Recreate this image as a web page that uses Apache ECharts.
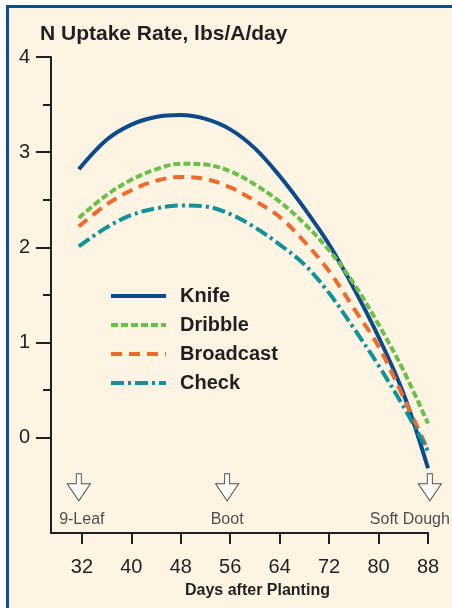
<!DOCTYPE html>
<html>
<head>
<meta charset="utf-8">
<script src="https://cdn.jsdelivr.net/npm/echarts@6/dist/echarts.min.js"></script>
<style>
  html, body { margin: 0; padding: 0; background: #fff; }
  #frame {
    position: absolute; left: 6px; top: 5px; width: 446px; height: 603px;
    box-sizing: border-box; background: #fdf4e3;
    border-top: 3px solid #0b4f91; border-left: 3px solid #0b4f91;
  }
  #main { position: absolute; left: 0; top: 0; width: 452px; height: 608px; }
</style>
</head>
<body>
<div id="frame"></div>
<div id="main"></div>
<script>
// days after planting
const days = [31.5, 36, 40, 44, 48, 52, 56, 60, 64, 68, 72, 76, 80, 84, 88]
// N uptake rate, lbs/A/day
const knife = [2.82, 3.13, 3.29, 3.37, 3.39, 3.35, 3.24, 3.04, 2.75, 2.41, 2.03, 1.57, 1.06, 0.47, -0.32]
const dribble = [2.31, 2.55, 2.71, 2.82, 2.88, 2.87, 2.8, 2.66, 2.48, 2.25, 1.97, 1.62, 1.19, 0.71, 0.15]
const broadcast = [2.22, 2.45, 2.6, 2.7, 2.74, 2.72, 2.63, 2.49, 2.32, 2.06, 1.75, 1.36, 0.96, 0.43, -0.13]
const check = [2.01, 2.21, 2.34, 2.41, 2.44, 2.43, 2.35, 2.21, 2.03, 1.82, 1.52, 1.15, 0.76, 0.33, -0.14]

// axis ticks
const xTicks = [32, 40, 48, 56, 64, 72, 80, 88]
const yTicks = [0, 1, 2, 3, 4]
const yMinorTicks = [0.5, 1.5, 2.5, 3.5]

// growth stages
const stageNames = ['9-Leaf', 'Boot', 'Soft Dough']
const stageDays = [31.5, 55.5, 88.3]

const ARROW_Y = -0.52
const LABEL_Y = -0.86
const INK = '#231f20'
const FONT = 'Liberation Sans, Arial, sans-serif'

const chart = echarts.init(document.getElementById('main'))

function line(name, data, color, type) {
  return {
    name: name,
    type: 'line',
    smooth: 0.35,
    showSymbol: false,
    symbol: 'none',
    data: days.map((d, i) => [d, data[i]]),
    lineStyle: { color: color, width: 4, type: type, cap: 'butt' },
    itemStyle: { color: color },
    z: 3
  }
}

const option = {
  animation: false,
  textStyle: { fontFamily: FONT },
  graphic: [
    {
      type: 'text', left: 40, top: 24,
      style: { text: 'N Uptake Rate, lbs/A/day', fontSize: 21, fontWeight: 'bold', fill: INK, fontFamily: FONT }
    },
    {
      type: 'text', left: 185, top: 583,
      style: { text: 'Days after Planting', fontSize: 16, fontWeight: 'bold', fill: INK, fontFamily: FONT }
    }
  ],
  legend: {
    orient: 'vertical',
    left: 104,
    top: 281,
    itemWidth: 55,
    itemHeight: 20,
    itemGap: 9,
    data: ['Knife', 'Dribble', 'Broadcast', 'Check'],
    itemStyle: { opacity: 0 },
    lineStyle: { width: 4 },
    textStyle: { fontSize: 20, fontWeight: 'bold', color: INK, padding: [0, 0, 0, 9] }
  },
  grid: { left: 51, right: 24, top: 57, bottom: 75 },
  xAxis: {
    type: 'value',
    min: 27,
    max: 88,
    splitLine: { show: false },
    axisLine: { show: true, onZero: false, lineStyle: { color: INK, width: 2 } },
    axisTick: { show: true, length: 11, customValues: xTicks, lineStyle: { color: INK, width: 2 } },
    axisLabel: { customValues: xTicks, fontSize: 20, color: INK, margin: 24 }
  },
  yAxis: [
    {
      type: 'value',
      min: -1,
      max: 4,
      splitLine: { show: false },
      axisLine: { show: true, onZero: false, lineStyle: { color: INK, width: 2 } },
      axisTick: { show: true, length: 15, customValues: yTicks, lineStyle: { color: INK, width: 2 } },
      axisLabel: { customValues: yTicks, fontSize: 20, color: INK, margin: 21 }
    },
    {
      type: 'value',
      position: 'left',
      offset: 0,
      min: -1,
      max: 4,
      splitLine: { show: false },
      axisLine: { show: false },
      axisTick: { show: true, length: 8, customValues: yMinorTicks, lineStyle: { color: INK, width: 2 } },
      axisLabel: { show: false }
    }
  ],
  series: [
    line('Knife', knife, '#0c4a8b', 'solid'),
    line('Dribble', dribble, '#6cbf4a', [7, 3]),
    line('Broadcast', broadcast, '#ef6b2d', [11, 7]),
    line('Check', check, '#11929a', [13, 4, 3, 4]),
    {
      name: 'stage arrows',
      type: 'scatter',
      clip: false,
      silent: true,
      symbol: 'path://M9,0 L14,0 L14,10 L23,10 L11.5,27 L0,10 L9,10 Z',
      symbolSize: [23, 27],
      itemStyle: { color: '#fff', borderColor: INK, borderWidth: 1 },
      data: stageDays.map(d => [d, ARROW_Y]),
      z: 4
    },
    {
      name: 'stage labels',
      type: 'scatter',
      clip: false,
      silent: true,
      symbolSize: 0,
      data: stageDays.map((d, i) => ({
        value: [d, LABEL_Y],
        label: { offset: i === 2 ? [-20, 0] : i === 0 ? [3, 0] : [0, 0] }
      })),
      label: {
        show: true,
        position: 'inside',
        fontSize: 16,
        color: INK,
        formatter: p => stageNames[p.dataIndex]
      }
    }
  ]
}

chart.setOption(option)
</script>
</body>
</html>
